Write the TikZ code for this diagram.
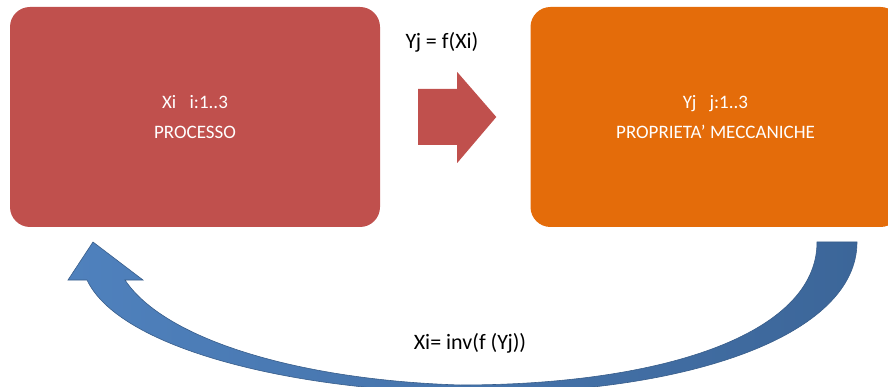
\documentclass[tikz,border=0pt]{standalone}
\usepackage{fontspec}
\setmainfont{Carlito}
\usetikzlibrary{calc}
\definecolor{boxred}{HTML}{C0504D}
\definecolor{boxorange}{HTML}{E46C0A}
\definecolor{arcblue}{HTML}{4F81BD}
\definecolor{arcdark}{HTML}{3C6699}
\definecolor{arcedge}{HTML}{385D8A}

\begin{document}
\begin{tikzpicture}[
	x=1pt, y=-1pt,
	box/.style = {rectangle, rounded corners=20pt, minimum width=370pt, minimum height=220pt,
		inner sep=0pt, text=white, align=center, font=\fontsize{19}{30}\selectfont},
	lbl/.style = {font=\fontsize{22}{26}\selectfont, inner sep=0pt}
	]
	\useasboundingbox (0,0) rectangle (888,387);
	\clip (0,0) rectangle (888,387);

	\node[box,fill=boxred]    (proc) at (195,117)   {Xi\hspace{0.7em}i:1..3\\PROCESSO};
	\node[box,fill=boxorange] (prop) at (715.5,117) {Yj\hspace{0.7em}j:1..3\\PROPRIETA’ MECCANICHE};

	\coordinate (@1) at ($(proc.east)+(38,0)$);
	\coordinate (@2) at ($(prop.west)+(-34,0)$);

	\fill[boxred] ($(@1)+(0,-28)$) -- ++(39,0) -- ++(0,-17) -- (@2)
		-- ($(@1)+(39,46)$) -- ++(0,-18) -- ($(@1)+(0,28)$) -- cycle;

	\node[lbl] (fwd) at (442,42)  {Yj = f(Xi)};
	\node[lbl] (inv) at (470,343) {Xi= inv(f (Yj))};

	\draw[arcedge, line width=0.6pt, left color=arcblue, right color=arcdark]
		(817,242) .. controls (817,335) and (660,385) .. (460,385)
		.. controls (300,380) and (165,340) .. (125,280)
		-- (143,280) -- (93,242) -- (68,280) -- (87,280)
		.. controls (120,350) and (300,393) .. (480,393)
		.. controls (690,393) and (857,335) .. (857,242) -- cycle;

\end{tikzpicture}
\end{document}
